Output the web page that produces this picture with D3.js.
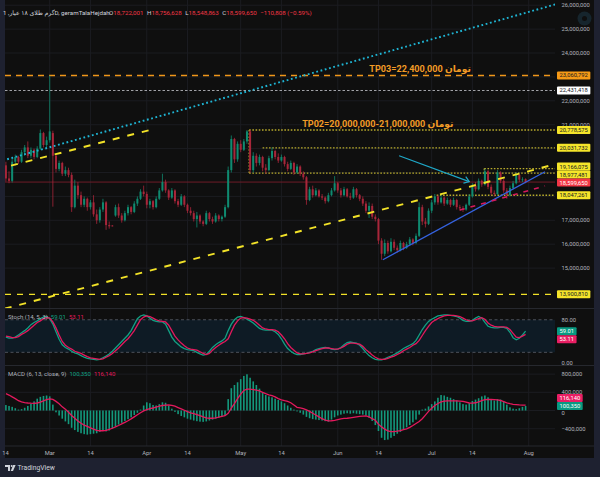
<!DOCTYPE html>
<html>
<head>
<meta charset="utf-8">
<script src="https://cdn.jsdelivr.net/npm/d3@7"></script>
<style>
  html, body { margin: 0; padding: 0; background: #1e2130; }
  svg { display: block; font-family: Roboto, "Noto Sans", "DejaVu Sans", sans-serif; }
</style>
</head>
<body>
<svg id="chart" width="600" height="477"></svg>
<script>
// ---- data (prices in millions of toman, one daily bar per entry, first bar 2024-02-16) ----
const firstDay = "2024-02-16";
const candles = [
  [19.30,19.45,18.62,18.75],[18.75,19.05,18.55,18.65],[18.65,19.60,18.58,19.45],[19.45,19.75,19.30,19.65],[19.65,19.70,19.35,19.45],
  [19.45,19.95,19.40,19.85],[19.85,20.15,19.70,20.05],[20.05,20.30,19.60,19.70],[19.70,20.05,19.60,19.95],[19.95,20.00,19.55,19.65],
  [19.65,20.10,19.60,20.00],[20.00,20.80,19.95,20.65],[20.65,20.70,20.05,20.15],[20.15,20.50,20.05,20.35],[20.35,23.06,20.25,20.72],
  [20.65,20.75,17.57,19.70],[19.70,19.75,19.00,19.15],[19.15,19.50,19.05,19.40],[19.40,19.45,18.85,18.95],[18.95,19.25,18.85,19.10],
  [19.10,19.20,18.80,18.90],[18.90,19.00,17.35,17.55],[17.55,18.70,17.50,18.45],[18.45,18.60,17.90,18.05],[18.05,18.20,17.55,17.65],
  [17.65,18.00,17.55,17.90],[17.90,17.95,17.40,17.55],[17.55,17.85,17.45,17.75],[17.75,18.05,17.15,17.25],[17.25,17.45,16.85,17.00],
  [17.00,17.55,16.90,17.45],[17.45,17.90,17.35,17.75],[17.75,17.80,16.60,16.80],[16.80,16.95,16.65,16.75],[16.78,16.80,16.74,16.77],
  [17.20,17.65,17.15,17.55],[17.55,17.70,17.10,17.20],[17.20,17.30,16.90,17.00],[17.00,17.40,16.95,17.30],[17.30,17.65,17.20,17.55],
  [17.55,17.60,17.25,17.35],[17.35,17.80,17.30,17.70],[17.70,18.00,17.60,17.90],[17.90,18.30,17.85,18.20],[18.20,18.45,18.00,18.10],
  [18.10,18.20,17.50,17.65],[17.65,17.90,17.50,17.80],[17.80,17.85,17.45,17.55],[17.55,18.00,17.50,17.90],[17.90,18.35,17.85,18.25],
  [18.25,18.95,18.20,18.60],[18.60,18.70,18.15,18.25],[18.25,18.30,17.85,17.95],[17.95,18.35,17.90,18.25],[18.25,18.30,17.70,17.80],
  [17.80,17.90,17.55,17.65],[17.65,18.10,17.60,18.00],[18.00,18.05,17.55,17.65],[17.65,17.70,17.30,17.40],[17.40,17.55,17.20,17.30],
  [17.30,17.40,16.95,17.05],[17.05,17.35,16.70,17.20],[17.20,17.25,16.85,16.95],[16.95,17.00,16.75,16.85],[16.85,17.40,16.80,17.30],
  [17.30,17.35,16.95,17.05],[17.05,17.15,16.85,16.95],[16.95,17.30,16.90,17.20],[17.20,17.25,16.95,17.05],[17.05,17.20,16.95,17.15],
  [17.15,17.65,17.10,17.55],[17.55,19.25,17.50,19.10],[19.10,20.55,19.00,20.40],[20.40,20.45,19.40,19.55],[19.55,20.30,19.45,20.20],
  [20.20,20.35,19.85,19.95],[19.95,20.40,19.90,20.30],[20.30,20.78,20.20,20.72],[20.72,20.78,18.98,19.10],[19.10,19.85,19.00,19.70],
  [19.70,19.80,19.25,19.40],[19.40,19.75,19.30,19.65],[19.65,19.70,19.05,19.20],[19.20,19.35,18.95,19.10],[19.10,19.70,19.05,19.60],
  [19.60,20.05,19.50,19.90],[19.90,19.95,19.55,19.65],[19.65,19.80,19.40,19.50],[19.50,19.75,19.45,19.65],[19.65,19.70,19.25,19.35],
  [19.35,19.45,19.05,19.15],[19.15,19.50,19.10,19.40],[19.40,19.45,18.90,19.00],[19.00,19.35,18.95,19.25],[19.25,19.30,18.85,18.95],
  [18.95,19.05,18.70,18.80],[18.80,18.85,17.65,17.85],[17.85,18.40,17.80,18.30],[18.30,18.45,17.95,18.05],[18.05,18.35,18.00,18.25],
  [18.25,18.30,17.95,18.00],[18.00,18.10,17.85,17.95],[17.95,18.00,17.70,17.80],[17.80,18.15,17.75,18.05],[18.05,18.35,18.00,18.25],
  [18.25,18.85,18.20,18.55],[18.55,18.60,18.15,18.25],[18.25,18.35,17.95,18.05],[18.05,18.40,18.00,18.30],[18.30,18.35,17.95,18.00],
  [18.00,18.15,17.85,17.95],[17.95,18.40,17.90,18.30],[18.30,18.35,17.95,18.05],[18.05,18.10,17.80,17.90],[17.90,18.00,17.60,17.70],
  [17.70,17.80,17.30,17.40],[17.40,17.75,17.10,17.60],[17.60,17.70,17.05,17.15],[17.15,17.25,16.95,17.05],[17.05,17.10,16.00,16.15],
  [16.15,16.25,15.35,15.60],[15.60,16.20,15.50,16.05],[16.05,16.15,15.60,15.70],[15.70,16.25,15.65,16.10],[16.10,16.20,15.75,15.85],
  [15.85,15.95,15.65,15.75],[15.75,16.15,15.70,16.05],[16.05,16.10,15.75,15.85],[15.85,16.10,15.80,16.00],[16.00,16.30,15.95,16.20],
  [16.20,16.25,15.95,16.05],[16.05,16.45,16.00,16.35],[16.35,17.75,16.30,17.55],[17.55,17.65,16.80,16.95],[16.95,17.10,16.70,16.85],
  [16.85,17.50,16.80,17.40],[17.40,17.85,17.30,17.75],[17.75,18.10,17.65,18.00],[18.00,18.05,17.65,17.75],[17.75,18.05,17.70,17.95],
  [17.95,18.00,17.60,17.70],[17.70,17.95,17.65,17.85],[17.85,17.90,17.55,17.65],[17.65,17.95,17.60,17.85],[17.85,17.90,17.45,17.55],
  [17.55,17.65,17.40,17.50],[17.50,17.60,17.35,17.45],[17.45,17.70,17.40,17.65],[17.65,18.10,17.60,18.00],[18.00,18.55,17.95,18.45],
  [18.45,18.60,18.20,18.30],[18.30,18.75,18.25,18.65],[18.65,18.70,18.40,18.50],[18.50,19.15,18.45,19.05],[19.05,19.10,18.30,18.40],
  [18.40,18.50,18.05,18.15],[18.15,18.25,18.00,18.10],[18.10,19.10,18.05,19.00],[19.00,19.05,18.55,18.65],[18.65,18.75,18.15,18.25],
  [18.25,18.35,17.90,18.05],[18.05,18.45,18.00,18.35],[18.35,18.65,18.30,18.55],[18.55,19.00,18.50,18.90],[18.90,18.95,18.60,18.70],
  [18.70,18.80,18.60,18.710458],[18.722001,18.756628,18.548863,18.59965]
];

const stochK = [
  48,46,46,48,52,56,60,65,71,75, 78,82,85,86,82,72,58,44,34,29, 26,22,19,17,14,11,9,8,7,6,
  7,10,13,17,22,28,34,40,46,52, 60,71,82,87,89,87,83,79,77,76, 76,72,60,48,40,35,30,27,25,24,
  23,20,17,15,16,22,29,34,38,41, 46,60,72,80,85,86,84,81,78,74, 69,64,62,61,61,61,58,53,45,35,
  27,22,18,16,16,17,18,20,22,25, 27,28,29,28,26,25,26,29,34,38, 39,38,37,33,27,20,14,10,7,6,
  6,8,11,13,16,19,23,27,30,33, 36,42,52,62,70,77,81,84,87,88, 89,89,88,87,86,83,79,77,77,79,
  83,86,83,75,68,66,65,65,66,66, 64,57,47,43,46,52,59.01
];
const stochD = [
  50,49,47,47,49,53,56,60,65,70, 75,78,82,84,83,76,65,52,40,33, 29,26,22,20,18,15,12,10,9,8,
  7,8,11,14,18,23,28,34,40,45, 52,60,70,80,85,87,86,83,80,78, 77,76,70,60,50,43,37,32,28,26,
  25,24,21,18,16,18,24,29,33,37, 40,45,58,70,78,83,84,83,81,79, 75,70,65,63,62,62,61,58,52,45,
  36,29,24,19,17,17,18,19,21,23, 25,27,28,28,27,26,26,28,31,35, 37,37,36,35,31,25,20,15,11,8,
  7,7,9,11,13,16,19,23,26,29, 33,36,42,51,60,68,75,79,82,85, 87,88,88,88,87,86,83,80,78,78,
  80,82,84,81,74,70,68,67,67,67, 66,62,55,48,47,50,53.11
];
// MACD in thousands
const macdLine = [
  120,100,80,50,20,30,60,100,150,200, 260,300,320,330,310,130,-40,-110,-180,-240,
  -300,-380,-430,-470,-500,-520,-530,-520,-510,-500, -470,-450,-460,-440,-400,-350,-310,-270,-230,-190,
  -150,-100,-50,20,110,180,160,120,110,140, 180,170,110,40,-30,-80,-120,-150,-180,-200,
  -220,-235,-245,-250,-240,-220,-200,-180,-160,-140, -110,250,490,560,620,690,760,796,720,640,
  560,480,400,340,310,290,260,230,200,160, 110,60,20,-20,-50,-90,-140,-170,-190,-200,
  -210,-220,-235,-245,-200,-150,-110,-90,-70,-60, -70,-60,-70,-80,-90,-110,-160,-230,-320,-450,
  -600,-650,-640,-600,-560,-510,-470,-420,-370,-320, -260,-200,-90,20,40,90,140,200,280,340,
  330,300,280,250,220,180,140,130,160,210, 240,270,310,330,290,240,220,250,240,200,
  130,70,40,30,50,80,100.35
];
const macdSignal = [
  370,340,300,260,215,190,175,165,160,158, 165,185,210,240,255,245,200,150,80,30,
  -40,-110,-170,-230,-280,-320,-350,-380,-410,-435, -445,-445,-435,-415,-390,-360,-330,-295,-260,-225,
  -185,-140,-95,-50,-10,20,40,55,75,95, 110,118,121,115,95,65,35,5,-25,-50,
  -70,-90,-115,-140,-160,-170,-170,-160,-145,-128, -115,-60,50,150,260,360,440,470,470,460,
  450,430,400,370,345,325,300,260,235,215, 200,170,120,70,60,40,15,-20,-60,-100,
  -140,-180,-210,-230,-225,-215,-200,-185,-175,-170, -160,-150,-140,-130,-122,-118,-140,-180,-215,-300,
  -360,-410,-450,-465,-465,-455,-440,-420,-405,-370, -330,-285,-240,-180,-100,-20,50,110,155,190,
  205,210,212,212,210,208,200,185,165,160, 170,190,215,240,245,242,238,232,220,195,
  170,150,135,128,122,119,116.14
];

const priceTicks = [15, 16, 17, 18, 19, 20, 21, 22, 23, 24, 25, 26];
const stochTicks = [80, 0];
const macdTicks = [800, 400, 0, -400];
const timeTicks = [["14","2024-02-14"],["Mar","2024-03-01"],["14","2024-03-14"],["Apr","2024-04-01"],["14","2024-04-14"],
  ["May","2024-05-01"],["14","2024-05-14"],["Jun","2024-06-01"],["14","2024-06-14"],["Jul","2024-07-01"],["14","2024-07-14"],["Aug","2024-08-01"]];

// levels (toman)
const tp03Level = 23060792;
const whiteLevel = 22431418;
const zoneLevels = [20778575, 20031732, 19166075, 18977481, 18047261];
const supportLevel = 13900810;
const tp03Text = "TP03=22,400,000 تومان";
const tp02Text = "TP02=20,000,000-21,000,000 تومان";
// drawings: [bar index, price in millions]
const cyanTrend = [[0, 19.54], [100, 23.24]];
const channelUpper = [[-3, 19.13], [46, 20.78]];
const channelLower = [[1.3, 13.36], [170.6, 19.18]];
const blueTrend = [[120.4, 15.35], [172.2, 19.03]];
const pinkTrend = [[145, 17.43], [172.2, 18.44]];
const cyanArrow = [[125.6, 19.70], [148, 18.62]];
const zoneStarts = [77.7, 82, 152.8, 77.7, 137.6];
const tp03Pos = [132.3, 23.33];
const tp02Pos = [118.8, 21.03];

// ---- layout ----
const svg = d3.select("#chart");
const paneL = 5, paneR = 555, axisX = 557;
const fmt = d3.format(",");
const parse = d3.timeParse("%Y-%m-%d");
const day0 = parse(firstDay);
const last = candles[candles.length - 1];
const prev = candles[candles.length - 2];

const x = d3.scaleLinear().domain([0, 166]).range([5.9, 525.6]);
const y = d3.scaleLinear().domain([13.33, 26.218]).range([308, 0]);
const ys = d3.scaleLinear().domain([0, 100]).range([363.2, 308.9]);
const ym = d3.scaleLinear().domain([-400, 800]).range([428.7, 374.1]);
const iRight = x.invert(paneR);

// background
svg.append("rect").attr("width", 600).attr("height", 477).attr("fill", "#1e2130");
svg.append("rect").attr("x", 5).attr("y", 0).attr("width", 589).attr("height", 458).attr("fill", "#0f0f0f");

const defs = svg.append("defs");
defs.append("clipPath").attr("id", "mainClip").append("rect").attr("x", paneL).attr("y", 0).attr("width", paneR - paneL).attr("height", 308);
defs.append("clipPath").attr("id", "stochClip").append("rect").attr("x", paneL).attr("y", 309).attr("width", paneR - paneL).attr("height", 56);
defs.append("clipPath").attr("id", "macdClip").append("rect").attr("x", paneL).attr("y", 366).attr("width", paneR - paneL).attr("height", 80);

// grid
const grid = svg.append("g").attr("stroke", "#1b1c21").attr("stroke-width", 1);
timeTicks.forEach(t => {
  const i = d3.timeDay.count(day0, parse(t[1]));
  if (x(i) > paneL && x(i) < paneR) grid.append("line").attr("x1", x(i)).attr("x2", x(i)).attr("y1", 0).attr("y2", 446);
});
priceTicks.forEach(p => grid.append("line").attr("x1", paneL).attr("x2", paneR).attr("y1", y(p)).attr("y2", y(p)));
macdTicks.forEach(v => grid.append("line").attr("x1", paneL).attr("x2", paneR).attr("y1", ym(v)).attr("y2", ym(v)));

// pane separators
[308.5, 365.5, 446].forEach(v => svg.append("line").attr("x1", paneL).attr("x2", 594).attr("y1", v).attr("y2", v)
  .attr("stroke", "#26282e").attr("stroke-width", 1));

// ---- main pane ----
const main = svg.append("g").attr("clip-path", "url(#mainClip)");
const line = d3.line().x(d => x(d[0])).y(d => y(d[1]));
function extend(pts, i0, i1) {
  const [a, b] = pts;
  const k = (b[1] - a[1]) / (b[0] - a[0]);
  return [[i0, a[1] + k * (i0 - a[0])], [i1, a[1] + k * (i1 - a[0])]];
}

// horizontal levels
function hLevel(v, i0, color, dash, w) {
  main.append("line").attr("x1", Math.max(paneL, x(i0))).attr("x2", paneR).attr("y1", y(v / 1e6)).attr("y2", y(v / 1e6))
    .attr("stroke", color).attr("stroke-dasharray", dash).attr("stroke-width", w);
}
hLevel(tp03Level, -10, "#f0961a", "6,5", 1.4);
hLevel(whiteLevel, -10, "#b4b6bb", "2.5,2", 0.9);
hLevel(supportLevel, -10, "#f2e228", "6,6", 1.4);
zoneLevels.forEach((v, k) => hLevel(v, zoneStarts[k], "#b8ab2c", "1.6,1.6", 1.3));
// zone box edges
[[0, 3], [2, 3]].forEach(([a, b]) => {
  main.append("line").attr("x1", x(zoneStarts[a])).attr("x2", x(zoneStarts[a]))
    .attr("y1", y(zoneLevels[a] / 1e6)).attr("y2", y(zoneLevels[b] / 1e6))
    .attr("stroke", "#b8ab2c").attr("stroke-dasharray", "1.6,1.6").attr("stroke-width", 1.3);
});
// last price line
main.append("line").attr("x1", paneL).attr("x2", paneR).attr("y1", y(last[3])).attr("y2", y(last[3]))
  .attr("stroke", "#6e1c27").attr("stroke-width", 1);

// candles
const up = "#0f8a70", down = "#a8263a";
const cg = main.append("g");
cg.selectAll("line").data(candles).join("line")
  .attr("x1", (d, i) => x(i)).attr("x2", (d, i) => x(i))
  .attr("y1", d => y(d[1])).attr("y2", d => y(d[2]))
  .attr("stroke", d => d[3] >= d[0] ? up : down).attr("stroke-width", 0.8);
cg.selectAll("rect").data(candles).join("rect")
  .attr("x", (d, i) => x(i) - 1).attr("width", 2)
  .attr("y", d => y(Math.max(d[0], d[3])))
  .attr("height", d => Math.max(0.8, Math.abs(y(d[0]) - y(d[3]))))
  .attr("fill", d => d[3] >= d[0] ? up : down);

// trend drawings
main.append("path").attr("d", line(extend(cyanTrend, -5, iRight + 5))).attr("fill", "none")
  .attr("stroke", "#1fb5d4").attr("stroke-width", 1.9).attr("stroke-dasharray", "1.8,2.6");
main.append("path").attr("d", line(channelUpper)).attr("fill", "none")
  .attr("stroke", "#f2e228").attr("stroke-width", 1.9).attr("stroke-dasharray", "7,8");
main.append("path").attr("d", line(extend(channelLower, -5, iRight + 2))).attr("fill", "none")
  .attr("stroke", "#f2e228").attr("stroke-width", 1.9).attr("stroke-dasharray", "7,8");
main.append("path").attr("d", line(blueTrend)).attr("fill", "none")
  .attr("stroke", "#3563e0").attr("stroke-width", 1.3);
main.append("path").attr("d", line(pinkTrend)).attr("fill", "none")
  .attr("stroke", "#d4195c").attr("stroke-width", 1.5).attr("stroke-dasharray", "5,6");
// arrow
const [a0, a1] = cyanArrow;
const ax0 = x(a0[0]), ay0 = y(a0[1]), ax1 = x(a1[0]), ay1 = y(a1[1]);
const ang = Math.atan2(ay1 - ay0, ax1 - ax0);
main.append("line").attr("x1", ax0).attr("y1", ay0).attr("x2", ax1).attr("y2", ay1)
  .attr("stroke", "#1fa8c8").attr("stroke-width", 1.2);
main.append("path")
  .attr("d", `M${ax1 - 6 * Math.cos(ang - 0.6)},${ay1 - 6 * Math.sin(ang - 0.6)}L${ax1},${ay1}L${ax1 - 6 * Math.cos(ang + 0.6)},${ay1 - 6 * Math.sin(ang + 0.6)}`)
  .attr("fill", "none").attr("stroke", "#1fa8c8").attr("stroke-width", 1.2);

// TP texts
[[tp03Text, tp03Pos], [tp02Text, tp02Pos]].forEach(([t, p]) => {
  main.append("text").attr("x", x(p[0])).attr("y", y(p[1])).attr("text-anchor", "middle")
    .attr("dominant-baseline", "central").attr("fill", "#f29b26").attr("font-size", 9.1).attr("font-weight", "bold").text(t);
});

// watermark
svg.append("circle").attr("cx", 584.5).attr("cy", 18.5).attr("r", 7).attr("fill", "#16252d");
svg.append("circle").attr("cx", 584.5).attr("cy", 18.5).attr("r", 2.5).attr("fill", "#0f0f0f");

// ---- price axis ----
function spread(items, h) {
  items.sort((a, b) => a.y0 - b.y0);
  let cl = items.map(d => ({ items: [d], c: d.y0 }));
  let changed = true;
  while (changed) {
    changed = false;
    for (let k = 1; k < cl.length; k++) {
      const a = cl[k - 1], b = cl[k];
      if (a.c + a.items.length * h / 2 > b.c - b.items.length * h / 2) {
        const all = a.items.concat(b.items);
        cl.splice(k - 1, 2, { items: all, c: d3.mean(all, d => d.y0) });
        changed = true;
        break;
      }
    }
  }
  cl.forEach(c => c.items.forEach((d, k) => d.y = c.c - (c.items.length - 1) * h / 2 + k * h));
  return items;
}
// main series label stays on its value, the other one moves away
function pair(mainItem, other, h) {
  mainItem.y = mainItem.y0;
  const dy = other.y0 - mainItem.y0;
  other.y = Math.abs(dy) < h ? mainItem.y0 + (dy > 0 ? h : -h) : other.y0;
  return [mainItem, other];
}
const axisG = svg.append("g").attr("font-size", 5.8);
function box(item) {
  const g = axisG.append("g");
  const t = g.append("text").attr("x", axisX + 2.5).attr("y", item.y).attr("dominant-baseline", "central")
    .attr("fill", item.fg).text(item.text);
  const w = t.node().getComputedTextLength() + 5;
  g.insert("rect", "text").attr("x", axisX).attr("y", item.y - 4).attr("width", w).attr("height", 8)
    .attr("rx", 1).attr("fill", item.bg);
}
const yellowBg = "#f5e52a", dark = "#131722";
const priceBoxes = spread([
  { y0: y(tp03Level / 1e6), text: fmt(tp03Level), bg: "#f59a16", fg: dark },
  { y0: y(whiteLevel / 1e6), text: fmt(whiteLevel), bg: "#ffffff", fg: dark },
  ...zoneLevels.map(v => ({ y0: y(v / 1e6), text: fmt(v), bg: yellowBg, fg: dark })),
  { y0: y(last[3]), text: fmt(Math.round(last[3] * 1e6)), bg: "#f23645", fg: "#ffffff" },
  { y0: y(supportLevel / 1e6), text: fmt(supportLevel), bg: yellowBg, fg: dark }
], 8);
priceTicks.forEach(p => {
  const ty = y(p);
  if (priceBoxes.some(b => Math.abs(b.y - ty) < 4.5)) return;
  axisG.append("text").attr("x", 561.5).attr("y", ty).attr("dominant-baseline", "central")
    .attr("fill", "#b2b5be").text(fmt(p * 1e6));
});
priceBoxes.forEach(box);

// ---- stochastic pane ----
const st = svg.append("g").attr("clip-path", "url(#stochClip)");
st.append("rect").attr("x", paneL).attr("width", paneR - paneL).attr("y", ys(80)).attr("height", ys(20) - ys(80)).attr("fill", "#0e1b25");
[80, 20].forEach(v => st.append("line").attr("x1", paneL).attr("x2", paneR).attr("y1", ys(v)).attr("y2", ys(v))
  .attr("stroke", "#5d606b").attr("stroke-dasharray", "3,2.5").attr("stroke-width", 0.8));
const sl = d3.line().x((d, i) => x(i)).y(d => ys(d));
st.append("path").attr("d", sl(stochK)).attr("fill", "none").attr("stroke", "#12a084").attr("stroke-width", 1.3);
st.append("path").attr("d", sl(stochD)).attr("fill", "none").attr("stroke", "#e3195d").attr("stroke-width", 1.3);
stochTicks.forEach(v => axisG.append("text").attr("x", 561.5).attr("y", ys(v)).attr("dominant-baseline", "central")
  .attr("fill", "#b2b5be").text(v.toFixed(2)));
const kLast = stochK[stochK.length - 1], dLast = stochD[stochD.length - 1];
pair(
  { y0: ys(kLast), text: kLast.toFixed(2), bg: "#089981", fg: "#ffffff" },
  { y0: ys(dLast), text: dLast.toFixed(2), bg: "#e91e63", fg: "#ffffff" }, 8
).forEach(box);

// ---- MACD pane ----
const mg = svg.append("g").attr("clip-path", "url(#macdClip)");
mg.selectAll("rect").data(macdLine).join("rect")
  .attr("x", (d, i) => x(i) - 0.8).attr("width", 1.6)
  .attr("y", d => Math.min(ym(d), ym(0))).attr("height", d => Math.abs(ym(d) - ym(0)))
  .attr("fill", "#14987c");
mg.append("path").attr("d", d3.line().x((d, i) => x(i)).y(d => ym(d))(macdSignal))
  .attr("fill", "none").attr("stroke", "#e3195d").attr("stroke-width", 1.3);
macdTicks.forEach(v => axisG.append("text").attr("x", 561.5).attr("y", ym(v) + (v === 0 ? 2 : 0)).attr("dominant-baseline", "central")
  .attr("fill", "#b2b5be").text(fmt(v * 1000)));
const mLast = macdLine[macdLine.length - 1], sLast = macdSignal[macdSignal.length - 1];
pair(
  { y0: ym(mLast), text: fmt(Math.round(mLast * 1000)), bg: "#089981", fg: "#ffffff" },
  { y0: ym(sLast), text: fmt(Math.round(sLast * 1000)), bg: "#e91e63", fg: "#ffffff" }, 8
).forEach(box);

// ---- time axis ----
timeTicks.forEach(t => {
  const i = d3.timeDay.count(day0, parse(t[1]));
  svg.append("text").attr("x", Math.max(x(i), 5.5)).attr("y", 453).attr("text-anchor", "middle").attr("dominant-baseline", "central")
    .attr("font-size", 5.8).attr("fill", "#b2b5be").text(t[0]);
});

// ---- legends ----
const hdr = svg.append("g").attr("font-size", 6.2);
hdr.append("text").attr("x", 3).attr("y", 12.5).attr("dominant-baseline", "central").attr("fill", "#d1d4dc")
  .text("گرم طلای ۱۸ عیار, 1D, geramTalaHejdah");
const ohlc = hdr.append("text").attr("x", 109).attr("y", 12.5).attr("dominant-baseline", "central");
const red = "#f23645";
[["O", last[0]], ["H", last[1]], ["L", last[2]], ["C", last[3]]].forEach(([k, v], n) => {
  ohlc.append("tspan").attr("fill", "#d1d4dc").attr("dx", n ? 3.5 : 0).text(k);
  ohlc.append("tspan").attr("fill", red).text(fmt(Math.round(v * 1e6)));
});
const chg = Math.round((last[3] - prev[3]) * 1e6);
ohlc.append("tspan").attr("fill", red).attr("dx", 3.5)
  .text(`−${fmt(Math.abs(chg))} (−${Math.abs(chg / (prev[3] * 1e6) * 100).toFixed(2)}%)`);

const sLeg = svg.append("text").attr("x", 8).attr("y", 316).attr("dominant-baseline", "central").attr("font-size", 6);
sLeg.append("tspan").attr("fill", "#b2b5be").text("Stoch (14, 5, 3)");
sLeg.append("tspan").attr("fill", "#12a084").attr("dx", 3).text(kLast.toFixed(2));
sLeg.append("tspan").attr("fill", "#e3195d").attr("dx", 3).text(dLast.toFixed(2));
const mLeg = svg.append("text").attr("x", 8).attr("y", 373).attr("dominant-baseline", "central").attr("font-size", 6);
mLeg.append("tspan").attr("fill", "#b2b5be").text("MACD (6, 13, close, 9)");
mLeg.append("tspan").attr("fill", "#12a084").attr("dx", 3).text(fmt(Math.round(mLast * 1000)));
mLeg.append("tspan").attr("fill", "#e3195d").attr("dx", 3).text(fmt(Math.round(sLast * 1000)));

// ---- branding ----
const brand = svg.append("g").attr("fill", "#d1d4dc");
brand.append("path").attr("d", "M5,465h5v6h-2v-4h-3z");
brand.append("circle").attr("cx", 11.7).attr("cy", 466).attr("r", 1);
brand.append("path").attr("d", "M13.2,465h2.4l-2.6,6h-2.3z");
brand.append("text").attr("x", 17.5).attr("y", 468).attr("dominant-baseline", "central").attr("font-size", 6.8).text("TradingView");
</script>
</body>
</html>
